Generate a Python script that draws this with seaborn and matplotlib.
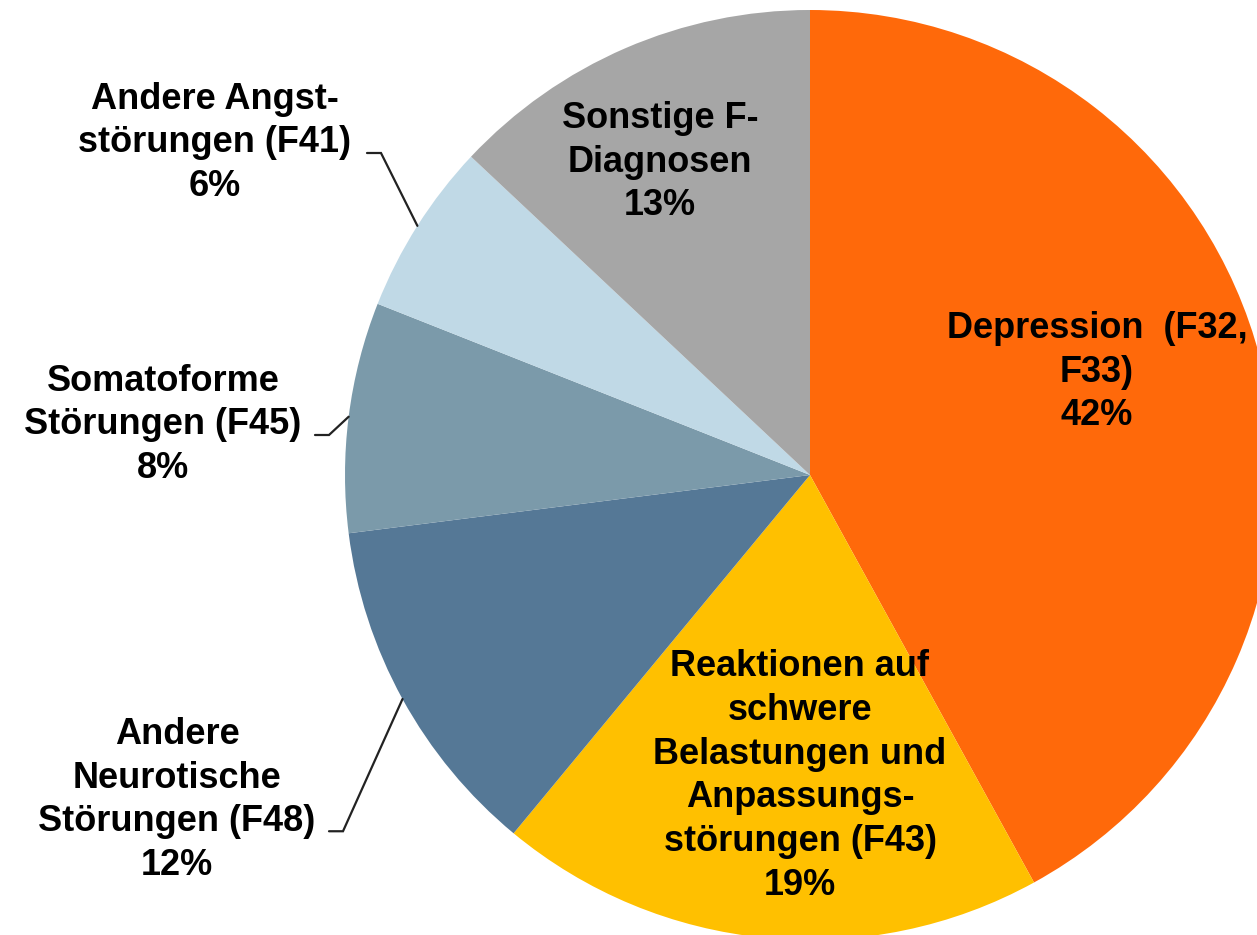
import numpy as np
import matplotlib
matplotlib.use("Agg")
import matplotlib.pyplot as plt
import seaborn as sns

# slice data, clockwise from 12 o'clock
labels = ["Depression  (F32,\nF33)",
          "Reaktionen auf\nschwere\nBelastungen und\nAnpassungs-\nstörungen (F43)",
          "Andere\nNeurotische\nStörungen (F48)",
          "Somatoforme\nStörungen (F45)",
          "Andere Angst-\nstörungen (F41)",
          "Sonstige F-\nDiagnosen"]
shares = [42, 19, 12, 8, 6, 13]
colors = ["#FF690A", "#FFC000", "#557896", "#7B9AAA", "#C0D9E6", "#A6A6A6"]

# label centres in pixel space (from top-left) and whether a leader line is drawn
label_pos = [(1097, 372), (800, 776), (177, 800), (163, 425), (215, 143), (660, 162)]
leader = [False, False, True, True, True, False]

sns.set_theme(style="white")
plt.rcParams['font.family'] = ['Liberation Sans', 'DejaVu Sans']

W, H = 1257, 935
fig = plt.figure(figsize=(W / 100, H / 100), dpi=100)
ax = fig.add_axes([0, 0, 1, 1])

cx, cy, r = 810, H - 475, 465
wedges, _ = ax.pie(shares, colors=colors, startangle=90, counterclock=False,
                   center=(cx, cy), radius=r, frame=True,
                   wedgeprops=dict(linewidth=0))

for lab, val, (lx, ly) in zip(labels, shares, label_pos):
    ax.text(lx, H - ly, f"{lab}\n{val}%", ha="center", va="center",
            multialignment="center", fontsize=26, fontweight="bold",
            color="black", linespacing=1.33)

# leader lines from wedge middle to the end of the label's second-to-last line
line_h = 42.5
for w, (lx, ly), lead, lab in zip(wedges, label_pos, leader, labels):
    if not lead:
        continue
    mid = np.deg2rad((w.theta1 + w.theta2) / 2)
    ex, ey = cx + r * np.cos(mid), cy + r * np.sin(mid)
    n_lines = lab.count("\n") + 2
    elbow_y = (H - ly) - line_h * ((n_lines - 2) - (n_lines - 1) / 2) - 10
    last = lab.split("\n")[-1]
    x0 = lx + len(last) * 10.0 + 2
    ax.plot([x0, x0 + 14, ex], [elbow_y, elbow_y, ey], color="#222222", lw=1.6,
            solid_joinstyle="miter")

ax.set_xlim(0, W)
ax.set_ylim(0, H)
ax.axis("off")

fig.savefig("out.png", dpi=100)
